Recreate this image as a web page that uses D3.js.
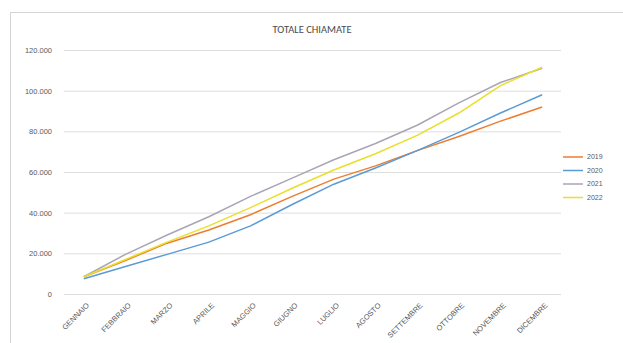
<!DOCTYPE html>
<html>
<head>
<meta charset="utf-8">
<script src="https://cdn.jsdelivr.net/npm/d3@7/dist/d3.min.js"></script>
<style>
  html, body { margin: 0; padding: 0; background: #ffffff; }
  svg { display: block; font-family: Calibri, Carlito, "Liberation Sans", "Open Sans", sans-serif; }
</style>
</head>
<body>
<svg id="chart" width="623" height="343"></svg>
<script>
// Monthly cumulative calls
const months = ["GENNAIO", "FEBBRAIO", "MARZO", "APRILE", "MAGGIO", "GIUGNO",
                "LUGLIO", "AGOSTO", "SETTEMBRE", "OTTOBRE", "NOVEMBRE", "DICEMBRE"];
const seriesNames = ["2019", "2020", "2021", "2022"];
const values2019 = [8500, 16500, 25000, 31500, 39000, 48000, 56500, 63000, 70500, 77500, 85000, 92000];
const values2020 = [7500, 13500, 19500, 25500, 33500, 44000, 54000, 62000, 70500, 79500, 89000, 98000];
const values2021 = [8500, 19500, 29000, 38000, 48000, 57000, 66000, 74000, 83000, 94000, 104000, 111000];
const values2022 = [8500, 17000, 25500, 33500, 42500, 52000, 61000, 69000, 78000, 89000, 102500, 111500];
const yTicks = [0, 20000, 40000, 60000, 80000, 100000, 120000];
const seriesColors = ["#ed7d31", "#5b9bd5", "#aaa5b5", "#e9df2a"];

const series = seriesNames.map((name, i) => ({
  name,
  color: seriesColors[i],
  values: [values2019, values2020, values2021, values2022][i]
}));

const svg = d3.select("#chart");

// chart area frame
svg.append("rect")
  .attr("x", 10.5).attr("y", 12.5)
  .attr("width", 640).attr("height", 340)
  .attr("fill", "#ffffff")
  .attr("stroke", "#d4d4d4");

const x = d3.scaleBand().domain(months).range([63, 563]);
const y = d3.scaleLinear().domain([0, 120000]).range([294, 50]);

// title
svg.append("text")
  .attr("x", 312).attr("y", 33)
  .attr("text-anchor", "middle")
  .attr("font-size", 10.5)
  .attr("fill", "#4a4a4a")
  .text("TOTALE CHIAMATE");

// horizontal gridlines + y labels
const yAxis = d3.axisLeft(y)
  .tickValues(yTicks)
  .tickSize(-(x.range()[1] - x.range()[0] - 3))
  .tickPadding(12)
  .tickFormat(d => d === 0 ? "0" : d3.format(",")(d).replace(/,/g, "."));

const gy = svg.append("g")
  .attr("transform", `translate(${x.range()[0] + 1},0)`)
  .call(yAxis);
gy.select(".domain").remove();
gy.selectAll(".tick line").attr("stroke", "#dedede").attr("stroke-width", 1);
gy.selectAll(".tick text")
  .attr("fill", "#595959")
  .attr("font-size", 7.5)
  .attr("font-family", "'Liberation Sans', sans-serif");

// x labels, rotated
const gx = svg.append("g")
  .attr("transform", "translate(0,300)")
  .call(d3.axisBottom(x).tickSize(0).tickPadding(0));
gx.select(".domain").remove();
gx.selectAll(".tick text")
  .attr("fill", "#595959")
  .attr("font-size", 7.5)
  .attr("font-family", "'Liberation Sans', sans-serif")
  .attr("text-anchor", "end")
  .attr("dy", "0.35em")
  .attr("transform", "translate(4,4) rotate(-45)");

// lines
const line = d3.line()
  .x((d, i) => x(months[i]) + x.bandwidth() / 2)
  .y(d => y(d));

svg.append("g").selectAll("path")
  .data(series)
  .join("path")
  .attr("fill", "none")
  .attr("stroke", d => d.color)
  .attr("stroke-width", 1.5)
  .attr("stroke-linejoin", "round")
  .attr("d", d => line(d.values));

// legend
const legend = svg.append("g").attr("transform", "translate(563,157)");
const items = legend.selectAll("g")
  .data(series)
  .join("g")
  .attr("transform", (d, i) => `translate(0,${i * 13.5})`);
items.append("line")
  .attr("x1", 0).attr("x2", 20)
  .attr("stroke", d => d.color)
  .attr("stroke-width", 1.5);
items.append("text")
  .attr("x", 24).attr("y", 0)
  .attr("dy", "0.35em")
  .attr("font-size", 7)
  .attr("fill", "#595959")
  .attr("font-family", "'Liberation Sans', sans-serif")
  .text(d => d.name);
</script>
</body>
</html>
